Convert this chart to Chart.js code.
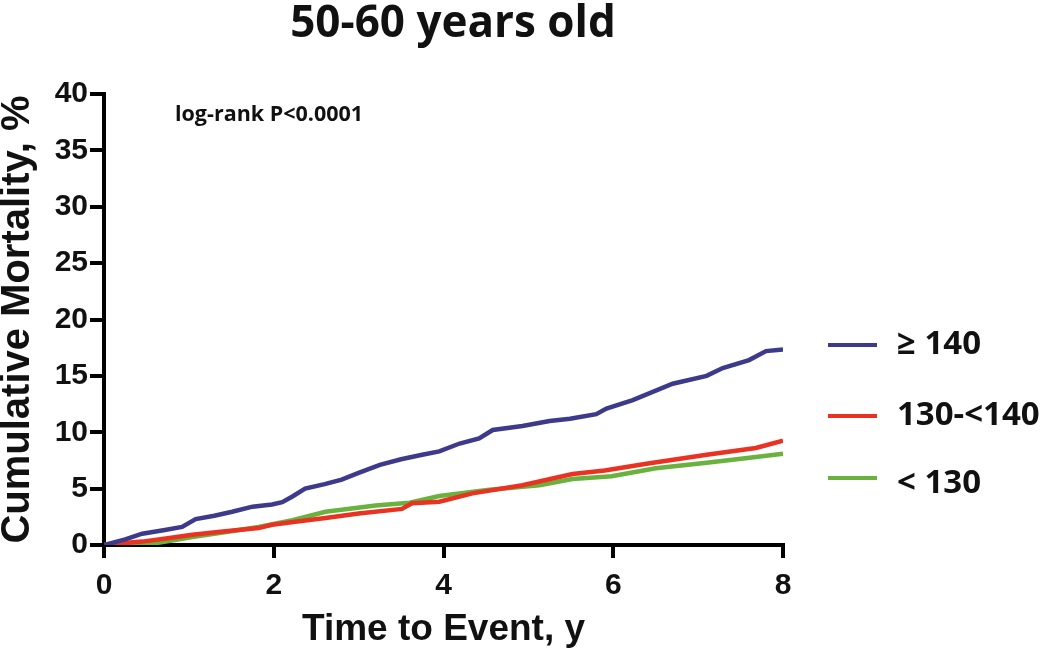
<!DOCTYPE html>
<html>
<head>
<meta charset="utf-8">
<script src="https://cdn.jsdelivr.net/npm/chart.js@4.4.1/dist/chart.umd.min.js"></script>
<style>
  body { margin: 0; background: #fff; }
  #wrap { width: 1050px; height: 655px; position: relative; }
</style>
</head>
<body>
<div id="wrap"><canvas id="ChartMortality" width="1050" height="655"></canvas></div>
<script>
// time (years) and cumulative mortality (%)
var blueX  = [0, 0.25, 0.45, 0.7, 0.92, 1.08, 1.3, 1.51, 1.75, 1.98, 2.1, 2.22, 2.37, 2.6, 2.8, 3.0, 3.25, 3.5, 3.75, 3.95, 4.19, 4.42, 4.58, 4.93, 5.25, 5.49, 5.8, 5.92, 6.23, 6.7, 7.1, 7.29, 7.6, 7.8, 8.0];
var blueY  = [0, 0.5, 1.0, 1.3, 1.6, 2.3, 2.6, 2.95, 3.4, 3.6, 3.8, 4.3, 5.0, 5.4, 5.8, 6.4, 7.1, 7.6, 8.0, 8.3, 9.0, 9.45, 10.2, 10.55, 11.0, 11.2, 11.6, 12.1, 12.85, 14.3, 15.0, 15.7, 16.4, 17.2, 17.35];

var redX   = [0, 0.2, 0.45, 0.75, 1.04, 1.4, 1.82, 1.98, 2.3, 2.61, 3.0, 3.51, 3.63, 3.95, 4.34, 4.93, 5.52, 5.9, 6.39, 7.1, 7.68, 8.0];
var redY   = [0, 0.15, 0.3, 0.6, 0.9, 1.2, 1.5, 1.8, 2.1, 2.4, 2.8, 3.2, 3.7, 3.84, 4.58, 5.3, 6.3, 6.6, 7.2, 8.0, 8.6, 9.25];

var greenX = [0, 0.45, 0.6, 0.8, 1.04, 1.4, 1.82, 2.22, 2.61, 3.2, 3.6, 3.95, 4.54, 5.13, 5.52, 5.98, 6.5, 7.1, 7.68, 8.0];
var greenY = [0, 0, 0.15, 0.4, 0.7, 1.1, 1.6, 2.2, 2.95, 3.5, 3.75, 4.35, 4.9, 5.3, 5.85, 6.1, 6.8, 7.3, 7.8, 8.1];

var groupLabels = ["\u2265 140", "130-<140", "< 130"];
var groupColors = ["#3d3a8c", "#ea3223", "#6ab23e"];
var xTicks = [0, 2, 4, 6, 8];
var yTicks = [0, 5, 10, 15, 20, 25, 30, 35, 40];

function ToPoints(xs, ys) {
    var points = [];
    var index = 0;
    while (index < xs.length) {
        points.push({ x: xs[index], y: ys[index] });
        index++;
    }
    return points;
}

var extraText = {
    id: 'extraText',
    afterDraw: function (chart) {
        var ctx = chart.ctx;
        ctx.save();
        ctx.fillStyle = "#111";

        ctx.textAlign = "center";
        ctx.textBaseline = "alphabetic";
        ctx.font = "bold 44px 'Open Sans'";
        ctx.fillText("50-60 years old", 453, 37);

        ctx.textAlign = "left";
        ctx.textBaseline = "middle";
        ctx.font = "bold 21.5px 'Open Sans'";
        ctx.fillText("log-rank P<0.0001", 175, 115);

        var lineRows = [345, 416, 478];
        var textRows = [345, 416, 484];
        for (var i = 0; i < groupLabels.length; i++) {
            ctx.strokeStyle = groupColors[i];
            ctx.lineWidth = 4;
            ctx.beginPath();
            ctx.moveTo(828, lineRows[i]);
            ctx.lineTo(877, lineRows[i]);
            ctx.stroke();
            ctx.fillStyle = "#111";
            ctx.font = "bold 33px 'Open Sans'";
            ctx.fillText(groupLabels[i], 897, textRows[i]);
        }
        ctx.restore();
    }
};

var ctx = document.getElementById('ChartMortality').getContext('2d');

var graph = new Chart(ctx, {
    type: 'line',
    data: {
        datasets: [
            { label: groupLabels[0], data: ToPoints(blueX, blueY), borderColor: groupColors[0] },
            { label: groupLabels[1], data: ToPoints(redX, redY), borderColor: groupColors[1] },
            { label: groupLabels[2], data: ToPoints(greenX, greenY), borderColor: groupColors[2] }
        ]
    },
    options: {
        responsive: false,
        animation: false,
        layout: { padding: { top: 94, right: 267, left: 0, bottom: 0 } },
        elements: {
            point: { radius: 0 },
            line: { borderWidth: 4.5, tension: 0, fill: false }
        },
        plugins: {
            legend: { display: false },
            tooltip: { enabled: false }
        },
        scales: {
            x: {
                type: 'linear',
                min: 0,
                max: 8,
                afterFit: function (scale) { scale.height = 110; },
                afterBuildTicks: function (scale) {
                    scale.ticks = xTicks.map(function (v) { return { value: v }; });
                },
                border: { display: true, color: '#000', width: 4 },
                grid: { drawOnChartArea: false, drawTicks: true, tickLength: 13, color: '#000', lineWidth: 4 },
                ticks: { color: '#111', padding: 10, font: { family: 'Liberation Sans', weight: 'bold', size: 30 } },
                title: {
                    display: true,
                    text: 'Time to Event, y',
                    color: '#111',
                    padding: { top: 0, bottom: 3 },
                    font: { family: 'Liberation Sans', weight: 'bold', size: 37 }
                }
            },
            y: {
                min: 0,
                max: 40,
                afterFit: function (scale) { scale.width = 104; },
                afterBuildTicks: function (scale) {
                    scale.ticks = yTicks.map(function (v) { return { value: v }; });
                },
                border: { display: true, color: '#000', width: 4 },
                grid: { drawOnChartArea: false, drawTicks: true, tickLength: 14, color: '#000', lineWidth: 4 },
                ticks: { color: '#111', padding: 2, font: { family: 'Liberation Sans', weight: 'bold', size: 30 } },
                title: {
                    display: true,
                    text: 'Cumulative Mortality, %',
                    color: '#111',
                    padding: { top: 0, bottom: 0 },
                    font: { family: 'Liberation Sans', weight: 'bold', size: 40, lineHeight: 0.9 }
                }
            }
        }
    },
    plugins: [extraText]
});
</script>
</body>
</html>
